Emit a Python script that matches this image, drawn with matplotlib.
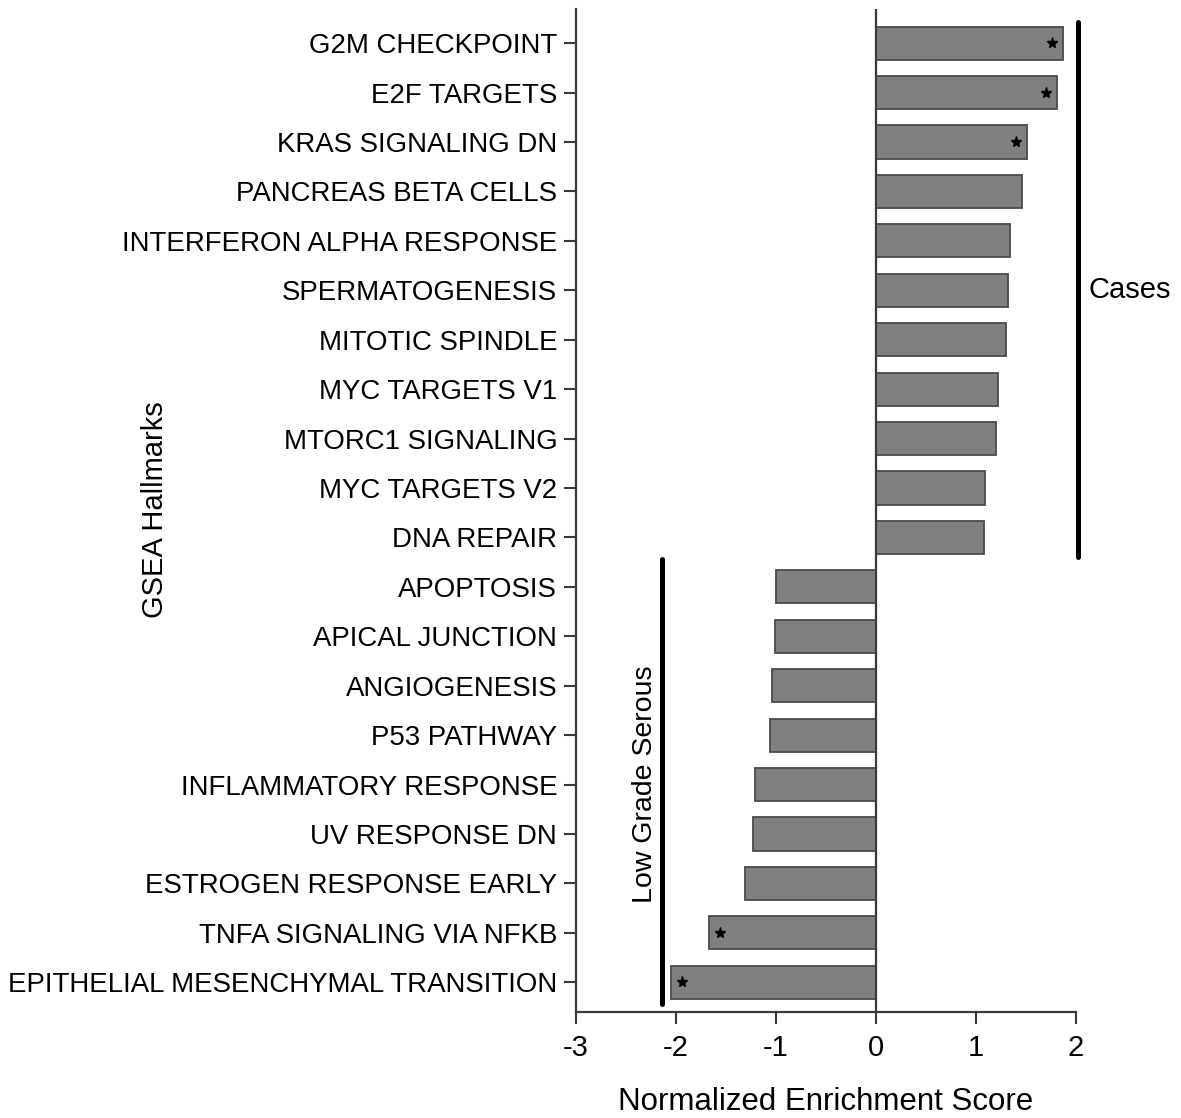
import matplotlib
matplotlib.use("Agg")
import matplotlib.pyplot as plt

plt.rcParams['font.family'] = ['Liberation Sans', 'DejaVu Sans']

categories = [
    "G2M CHECKPOINT", "E2F TARGETS", "KRAS SIGNALING DN", "PANCREAS BETA CELLS",
    "INTERFERON ALPHA RESPONSE", "SPERMATOGENESIS", "MITOTIC SPINDLE",
    "MYC TARGETS V1", "MTORC1 SIGNALING", "MYC TARGETS V2", "DNA REPAIR",
    "APOPTOSIS", "APICAL JUNCTION", "ANGIOGENESIS", "P53 PATHWAY",
    "INFLAMMATORY RESPONSE", "UV RESPONSE DN", "ESTROGEN RESPONSE EARLY",
    "TNFA SIGNALING VIA NFKB", "EPITHELIAL MESENCHYMAL TRANSITION",
]
nes = [1.87, 1.81, 1.51, 1.46, 1.34, 1.32, 1.30, 1.22, 1.20, 1.09, 1.08,
       -1.00, -1.01, -1.04, -1.06, -1.21, -1.23, -1.31, -1.67, -2.05]
significant = [True, True, True, False, False, False, False, False, False, False, False,
               False, False, False, False, False, False, False, True, True]
x_ticks = [-3, -2, -1, 0, 1, 2]

fig = plt.figure(figsize=(11.81, 11.18), dpi=100)
ax = fig.add_axes([576/1181, 1 - 1012/1118, 500/1181, (1012 - 9)/1118])

pos = list(range(len(categories)))
ax.barh(pos, nes, height=0.67, color='#808080', edgecolor='#4a4a4a', linewidth=1.3, zorder=2)

for p, v, s in zip(pos, nes, significant):
    if s:
        off = -0.11 if v > 0 else 0.11
        ax.plot(v + off, p, marker='*', color='black', markersize=8, zorder=3)

ax.axvline(0, color='#3a3a3a', linewidth=1.6, zorder=3)

ax.set_xlim(-3, 2)
ax.set_ylim(19.6, -0.69)
ax.set_yticks(pos)
ax.set_yticklabels(categories, fontsize=19.9)
ax.set_xticks(x_ticks)
ax.set_xticklabels([str(t) for t in x_ticks], fontsize=21)
ax.tick_params(axis='both', direction='out', length=8.5, width=1.5, color='#3a3a3a', pad=5)
ax.tick_params(axis='x', pad=7)

for side in ['top', 'right']:
    ax.spines[side].set_visible(False)
for side in ['left', 'bottom']:
    ax.spines[side].set_color('#3a3a3a')
    ax.spines[side].set_linewidth(1.6)

ax.set_xlabel("Normalized Enrichment Score", fontsize=22.5, labelpad=18)
fig.text(155/1181, 1 - 510/1118, "GSEA Hallmarks", rotation=90, fontsize=21,
         ha='center', va='center')

# group brackets
ax.plot([2.02, 2.02], [-0.43, 10.4], color='black', linewidth=3.6,
        solid_capstyle='round', clip_on=False, zorder=4)
ax.text(2.13, 5.0, "Cases", fontsize=21, ha='left', va='center', clip_on=False)

ax.plot([-2.14, -2.14], [10.43, 19.43], color='black', linewidth=3.6,
        solid_capstyle='round', clip_on=False, zorder=4)
ax.text(-2.31, 15.0, "Low Grade Serous", fontsize=20.5, rotation=90,
        ha='center', va='center')

fig.savefig("out.png", dpi=100)
